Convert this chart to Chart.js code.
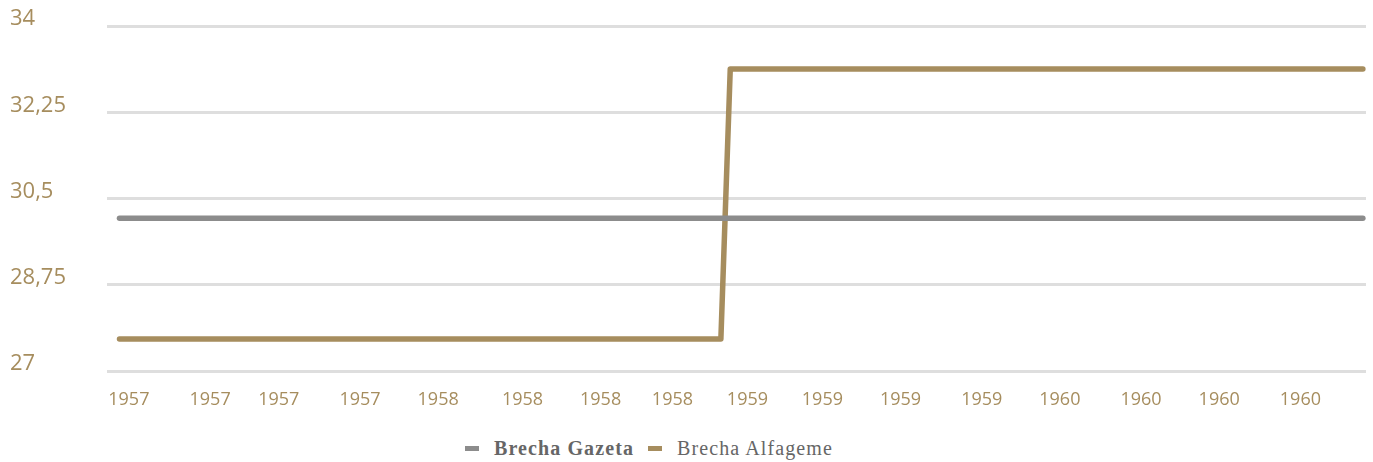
<!DOCTYPE html>
<html>
<head>
<meta charset="utf-8">
<script src="https://cdn.jsdelivr.net/npm/chart.js@4/dist/chart.umd.min.js"></script>
<style>
  body { margin: 0; background: #fff; }
  #contenedor { position: relative; width: 1373px; height: 425px; }
  #leyenda {
    position: absolute; top: 437px; left: 465px;
    display: flex; align-items: center;
    font-family: "Liberation Serif", serif; font-size: 20px;
    letter-spacing: 1.1px; color: #666;
  }
  .item { display: flex; align-items: center; margin-right: 14px; }
  .caja { width: 14px; height: 5px; margin-right: 15px; }
</style>
</head>
<body>
<div id="contenedor"><canvas id="grafico"></canvas></div>
<div id="leyenda"></div>

<script>
// datos (x en años decimales)
const xGazeta = [1957.03, 1961.01];
const yGazeta = [30.1, 30.1];

const xAlfageme = [1957.03, 1958.955, 1958.985, 1961.01];
const yAlfageme = [27.65, 27.65, 33.13, 33.13];

const ticksX = [1957.06, 1957.32, 1957.54, 1957.80, 1958.05, 1958.32, 1958.57, 1958.80,
                1959.04, 1959.28, 1959.53, 1959.79, 1960.04, 1960.30, 1960.55, 1960.81];
const etiquetasX = ['1957', '1957', '1957', '1957', '1958', '1958', '1958', '1958',
                    '1959', '1959', '1959', '1959', '1960', '1960', '1960', '1960'];
const ticksY = [27, 28.75, 30.5, 32.25, 34];

const colorOro = '#a68d5e';
const colorGris = '#8c8c8c';

const series = [
  { label: 'Brecha Gazeta', xs: xGazeta, ys: yGazeta, color: colorGris, negrita: true },
  { label: 'Brecha Alfageme', xs: xAlfageme, ys: yAlfageme, color: colorOro, negrita: false }
];

const ctx = document.getElementById('grafico').getContext('2d');

const miGrafico = new Chart(ctx, {
  type: 'line',
  data: {
    datasets: series.map(s => ({
      label: s.label,
      data: s.xs.map((x, i) => ({ x: x, y: s.ys[i] })),
      borderColor: s.color,
      backgroundColor: s.color,
      borderWidth: 5.5,
      borderCapStyle: 'round',
      borderJoinStyle: 'round',
      pointRadius: 0,
      tension: 0
    }))
  },
  options: {
    responsive: true,
    maintainAspectRatio: false,
    animation: false,
    layout: { padding: { left: 10, top: 26, right: 7, bottom: 0 } },
    plugins: {
      legend: { display: false },
      tooltip: { enabled: false }
    },
    scales: {
      x: {
        type: 'linear',
        min: 1956.99,
        max: 1961.02,
        afterBuildTicks: scale => { scale.ticks = ticksX.map(v => ({ value: v })); },
        afterFit: scale => { scale.height = 54; },
        grid: { display: false },
        border: { display: false },
        ticks: {
          autoSkip: false,
          maxRotation: 0,
          padding: 10,
          color: colorOro,
          font: { family: 'Open Sans', size: 18 },
          callback: (v, i) => etiquetasX[i]
        }
      },
      y: {
        min: 27,
        max: 34,
        afterBuildTicks: scale => { scale.ticks = ticksY.map(v => ({ value: v })); },
        afterFit: scale => { scale.width = 97; },
        grid: { color: '#dedede', lineWidth: 3, drawTicks: false },
        border: { display: false },
        ticks: {
          crossAlign: 'far',
          labelOffset: -7,
          color: colorOro,
          font: { family: 'Open Sans', size: 22 },
          callback: v => String(v).replace('.', ',')
        }
      }
    }
  }
});

// leyenda en HTML
const leyenda = document.getElementById('leyenda');
series.forEach(s => {
  const item = document.createElement('div');
  item.className = 'item';
  const caja = document.createElement('span');
  caja.className = 'caja';
  caja.style.background = s.color;
  const texto = document.createElement('span');
  texto.textContent = s.label;
  if (s.negrita) texto.style.fontWeight = 'bold';
  item.appendChild(caja);
  item.appendChild(texto);
  leyenda.appendChild(item);
});
</script>
</body>
</html>
